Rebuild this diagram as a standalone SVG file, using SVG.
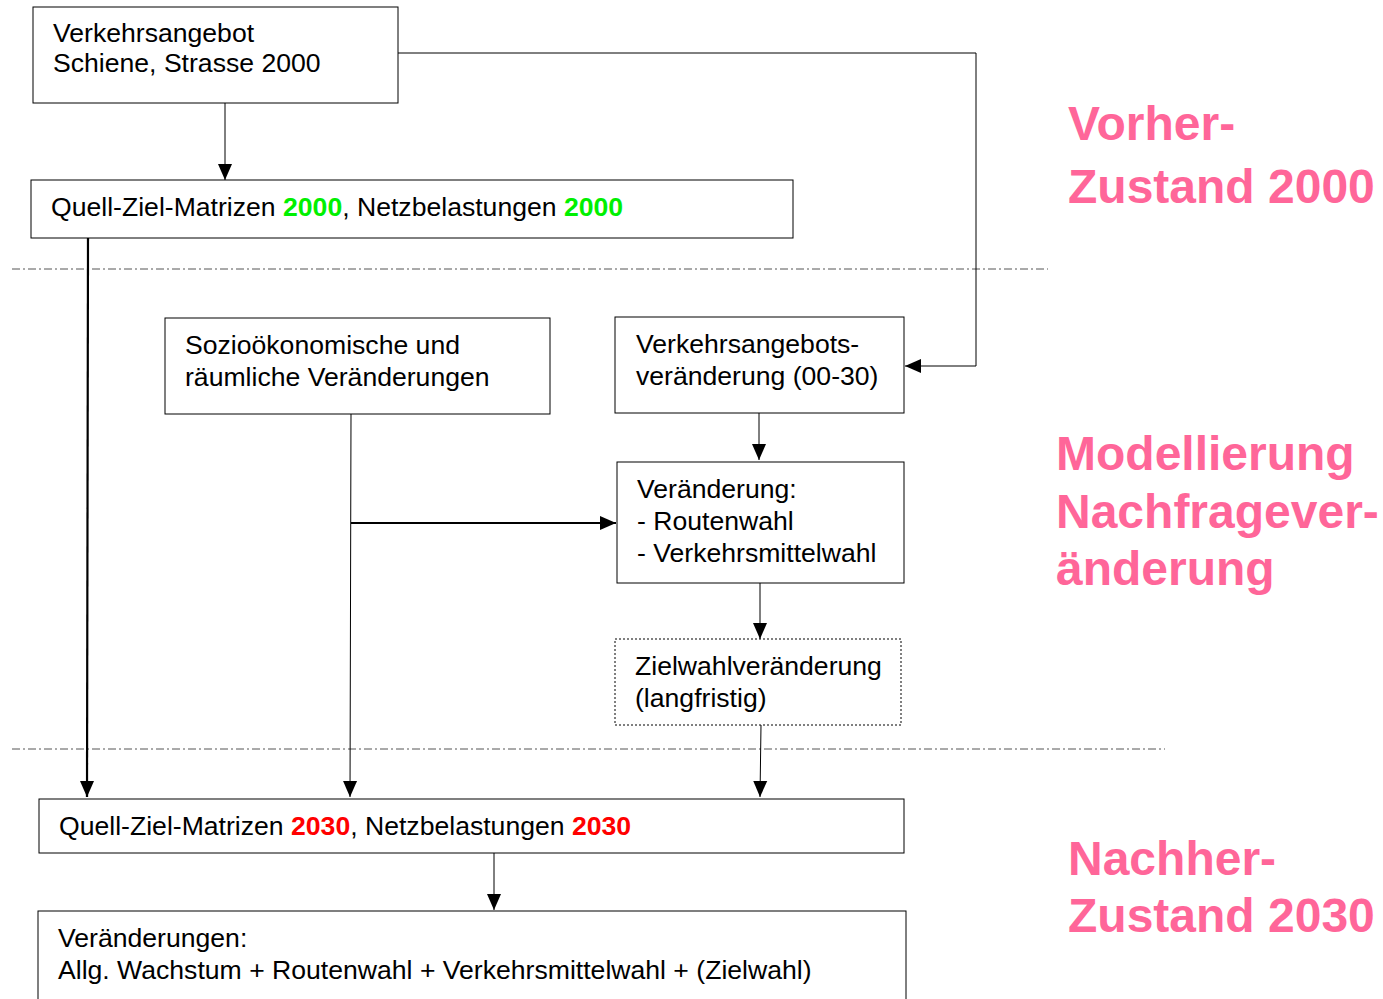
<svg xmlns="http://www.w3.org/2000/svg" width="1383" height="999" viewBox="0 0 1383 999">
<style>
.box{fill:#fff;stroke:#000;stroke-width:1}
.dot{fill:#fff;stroke:#000;stroke-width:1;stroke-dasharray:2 2}
.t{font-family:"Liberation Sans",Arial,sans-serif;font-size:26.6px;fill:#000}
.g{fill:#00f000;font-weight:bold}
.r{fill:#ff0000;font-weight:bold}
.p{font-family:"Liberation Sans",Arial,sans-serif;font-size:48px;font-weight:bold;fill:#ff6699}
.c{fill:none;stroke:#000;stroke-width:1}
.c2{fill:none;stroke:#000;stroke-width:2.2}
.sep{fill:none;stroke:#555;stroke-width:1;stroke-dasharray:8 3 2 3}
</style>
<defs>
<marker id="ah" markerWidth="16" markerHeight="16" viewBox="0 0 16 16" refX="16" refY="8" orient="auto" markerUnits="userSpaceOnUse">
<path d="M0,1 L16,8 L0,15 Z" fill="#000"/>
</marker>
</defs>
<g id="separators">
<line class="sep" x1="12" y1="269" x2="1048" y2="269"/>
<line class="sep" x1="12" y1="749" x2="1165" y2="749"/>
</g>
<g id="connectors">
<path class="c" d="M225,103 V180" marker-end="url(#ah)"/>
<path class="c" d="M398,53 H976 V366 H905" marker-end="url(#ah)"/>
<path class="c2" d="M88,238 L87,797" marker-end="url(#ah)"/>
<path class="c" d="M351,414 L350,797" marker-end="url(#ah)"/>
<path class="c2" d="M351,523 H616" marker-end="url(#ah)"/>
<path class="c" d="M759,413 V460" marker-end="url(#ah)"/>
<path class="c" d="M760,583 V639" marker-end="url(#ah)"/>
<path class="c" d="M761,725 L760,797" marker-end="url(#ah)"/>
<path class="c" d="M494,853 V910" marker-end="url(#ah)"/>
</g>
<g id="n1">
<rect class="box" x="33" y="7" width="365" height="96"/>
<text class="t" x="53" y="42">Verkehrsangebot</text>
<text class="t" x="53" y="72">Schiene, Strasse 2000</text>
</g>
<g id="n2">
<rect class="box" x="31" y="180" width="762" height="58"/>
<text class="t" x="51" y="216">Quell-Ziel-Matrizen <tspan class="g">2000</tspan>, Netzbelastungen <tspan class="g">2000</tspan></text>
</g>
<g id="n3">
<rect class="box" x="165" y="318" width="385" height="96"/>
<text class="t" x="185" y="354">Sozioökonomische und</text>
<text class="t" x="185" y="386">räumliche Veränderungen</text>
</g>
<g id="n4">
<rect class="box" x="615" y="317" width="289" height="96"/>
<text class="t" x="636" y="353">Verkehrsangebots-</text>
<text class="t" x="636" y="385">veränderung (00-30)</text>
</g>
<g id="n5">
<rect class="box" x="617" y="462" width="287" height="121"/>
<text class="t" x="637" y="498">Veränderung:</text>
<text class="t" x="637" y="530">- Routenwahl</text>
<text class="t" x="637" y="562">- Verkehrsmittelwahl</text>
</g>
<g id="n6">
<rect class="dot" x="615" y="639" width="286" height="86"/>
<text class="t" x="635" y="675">Zielwahlveränderung</text>
<text class="t" x="635" y="707">(langfristig)</text>
</g>
<g id="n7">
<rect class="box" x="39" y="799" width="865" height="54"/>
<text class="t" x="59" y="835">Quell-Ziel-Matrizen <tspan class="r">2030</tspan>, Netzbelastungen <tspan class="r">2030</tspan></text>
</g>
<g id="n8">
<rect class="box" x="38" y="911" width="868" height="110"/>
<text class="t" x="58" y="947">Veränderungen:</text>
<text class="t" x="58" y="979">Allg. Wachstum + Routenwahl + Verkehrsmittelwahl + (Zielwahl)</text>
</g>
<g id="labels">
<text class="p" x="1068" y="140">Vorher-</text>
<text class="p" x="1068" y="203">Zustand 2000</text>
<text class="p" x="1056" y="470">Modellierung</text>
<text class="p" x="1056" y="528">Nachfragever-</text>
<text class="p" x="1056" y="585">änderung</text>
<text class="p" x="1068" y="875">Nachher-</text>
<text class="p" x="1068" y="932">Zustand 2030</text>
</g>
</svg>
